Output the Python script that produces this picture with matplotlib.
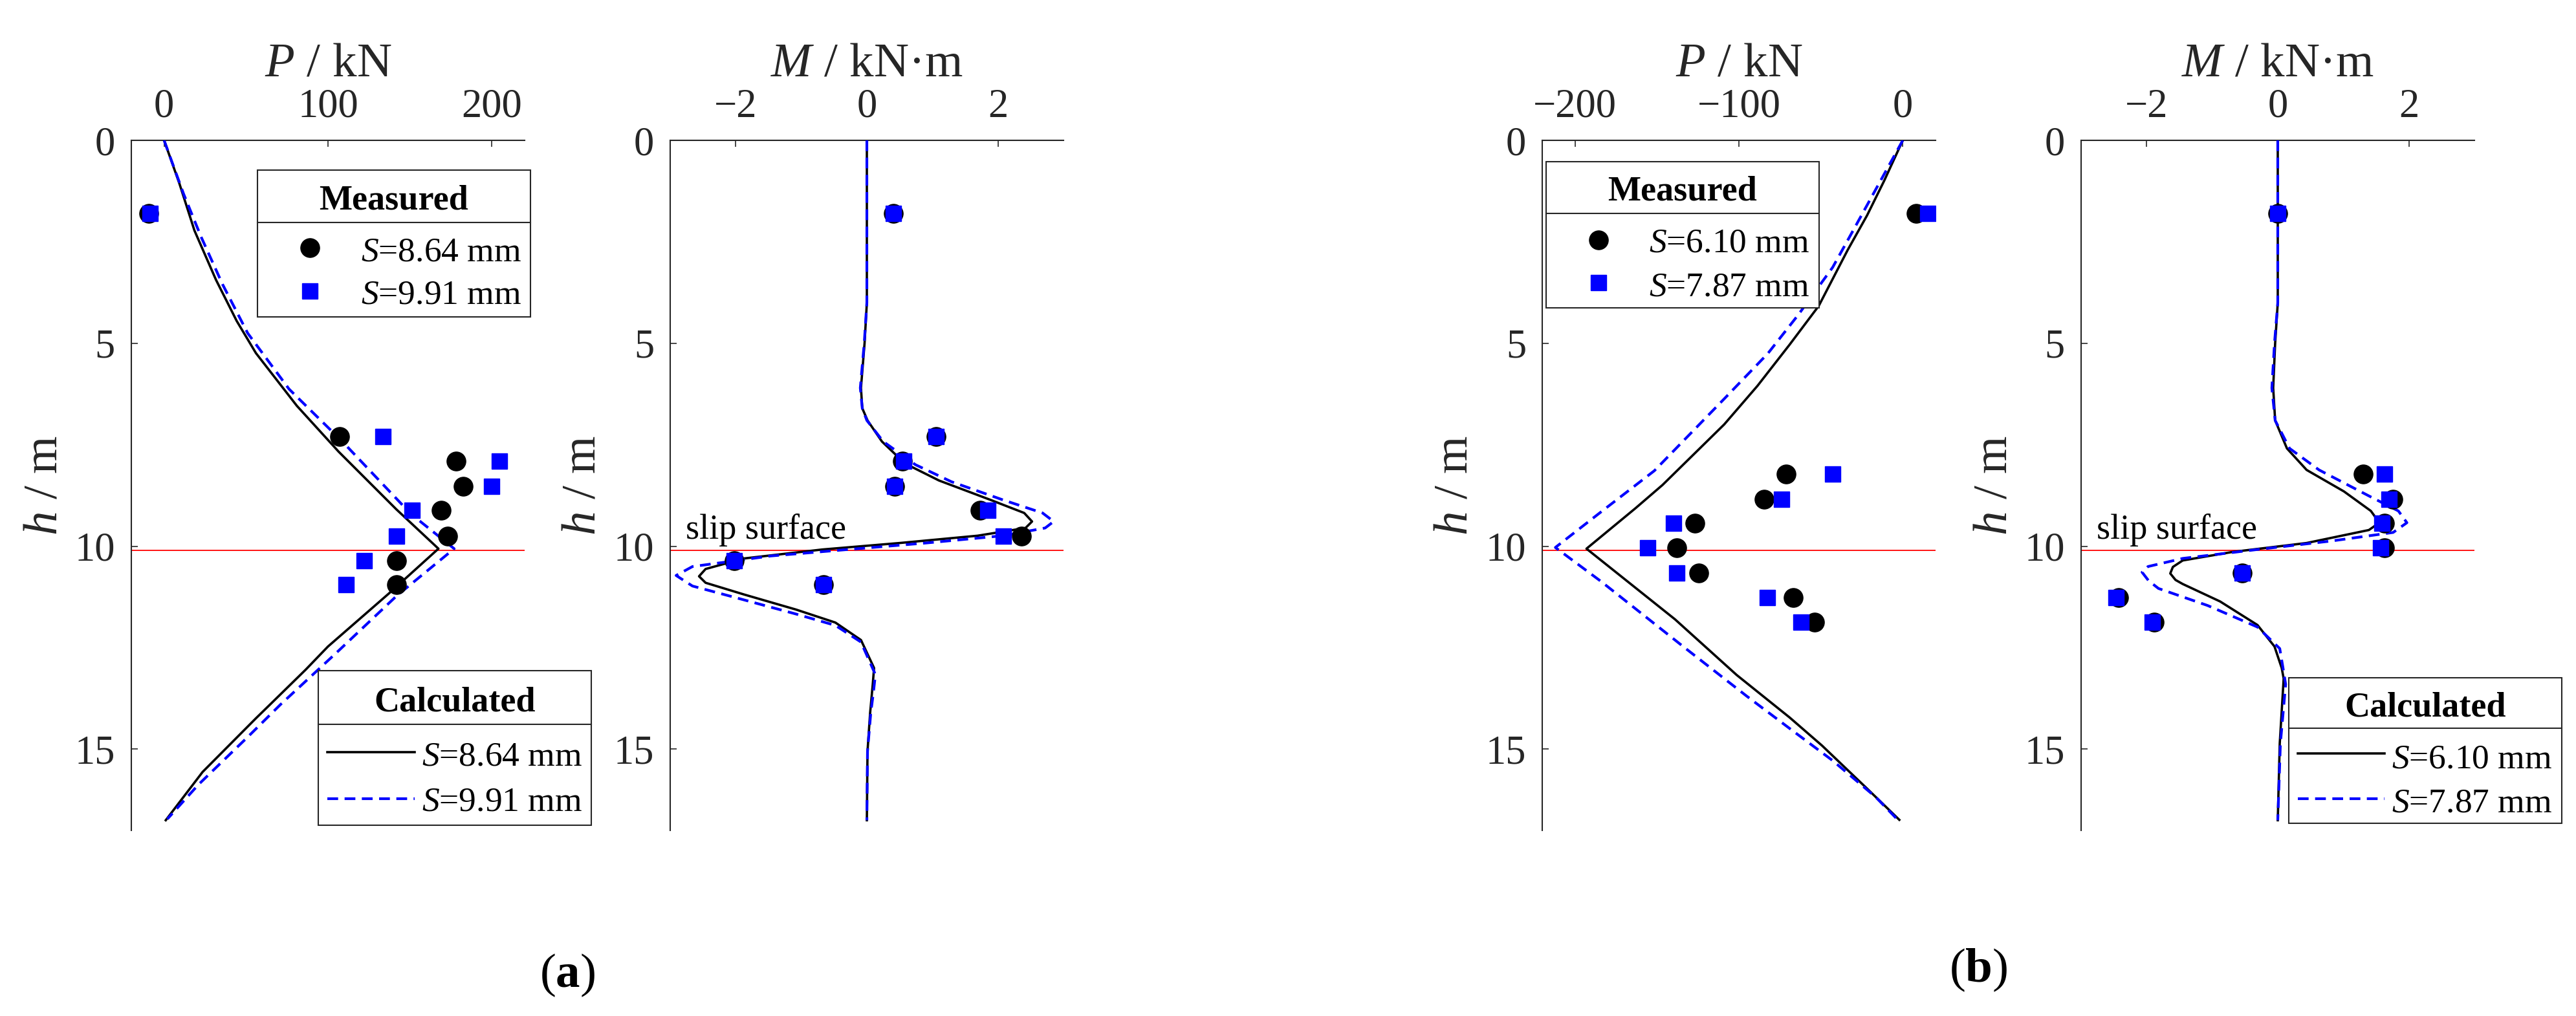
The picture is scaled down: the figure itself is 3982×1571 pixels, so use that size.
import matplotlib
matplotlib.use("Agg")
import matplotlib.pyplot as plt
from matplotlib.lines import Line2D
from matplotlib.patches import Rectangle

plt.rcParams['font.family'] = ['Liberation Serif', 'DejaVu Serif']
plt.rcParams['mathtext.fontset'] = 'custom'
plt.rcParams['mathtext.rm'] = 'Liberation Serif'
plt.rcParams['mathtext.it'] = 'Liberation Serif:italic'
plt.rcParams['mathtext.bf'] = 'Liberation Serif:bold'

# ---- data (h in m, P in kN, M in kN·m) ----
slip_h = 10.1

# (a) measured
h_meas_a = [1.8, 7.3, 7.9, 8.52, 9.12, 9.75, 10.35, 10.95]
P_meas_a1 = [-9.2, 107, 178, 182.4, 169, 173, 141.7, 142]
P_meas_a2 = [-8.4, 133.6, 204.6, 200, 151.3, 141.7, 122, 111]
M_meas_a1 = [0.40, 1.06, 0.54, 0.42, 1.73, 2.36, -2.02, -0.66]
M_meas_a2 = [0.40, 1.06, 0.56, 0.42, 1.85, 2.08, -2.02, -0.66]

# (a) calculated P
h_Pa1 = [0, 1.06, 2.22, 3.44, 4.45, 5.24, 6.54, 7.67, 9.09, 10.06, 11.18, 12.47, 13.04, 13.85, 14.24, 15.56, 16.75]
P_a1 = [0, 9.3, 18.5, 31.7, 44.3, 56, 81, 106.5, 141.7, 167.4, 136.7, 100, 86.4, 65.9, 56, 23.5, 1]
h_Pa2 = [0, 1.32, 2.38, 3.55, 4.75, 6.13, 7.43, 9.2, 10.06, 11.23, 12.63, 13.9, 14.7, 15.87, 16.72]
P_a2 = [0, 11.9, 22.6, 35.7, 51, 76.3, 109, 150.5, 177, 141.7, 105, 71, 51, 21, 2]

# (a) calculated M
h_Ma1 = [0, 4.0, 5.0, 6.1, 6.6, 6.9, 7.42, 7.96, 8.38, 8.86, 9.18, 9.39, 9.55, 9.74, 9.92, 10.08,
         10.3, 10.56, 10.74, 10.9, 11.19, 11.56, 11.88, 12.31, 13.0, 13.4, 14.1, 15.05, 16.75]
M_a1 = [0, 0, -0.035, -0.09, -0.07, 0.01, 0.23, 0.58, 1.10, 1.89, 2.40, 2.52, 2.42, 1.69, 0.50, -0.68,
        -1.87, -2.46, -2.56, -2.46, -1.87, -1.08, -0.48, -0.09, 0.11, 0.09, 0.05, 0.01, 0]
h_Ma2 = [0, 4.0, 5.0, 6.1, 6.6, 6.9, 7.42, 7.99, 8.41, 8.86, 9.18, 9.39, 9.55, 9.74, 9.92, 10.08,
         10.24, 10.5, 10.72, 10.98, 11.24, 11.67, 11.95, 12.36, 13.16, 13.6, 14.1, 15.05, 16.75]
M_a2 = [0, 0, -0.04, -0.1, -0.07, 0.0, 0.25, 0.74, 1.29, 2.08, 2.68, 2.85, 2.72, 2.08, 0.90, -0.29,
        -1.47, -2.66, -2.91, -2.66, -2.06, -1.08, -0.48, -0.09, 0.13, 0.10, 0.06, 0.01, 0]

# (b) measured
h_meas_b = [1.8, 8.22, 8.84, 9.44, 10.04, 10.66, 11.26, 11.87]
P_meas_b1 = [8.3, -71.3, -84.6, -127, -137.8, -124.4, -67, -53.7]
P_meas_b2 = [15.4, -42.6, -73.8, -140, -155.6, -138, -82.7, -62]
M_meas_b1 = [0.0, 1.30, 1.76, 1.63, 1.63, -0.54, -2.43, -1.88]
M_meas_b2 = [0.0, 1.63, 1.70, 1.59, 1.57, -0.54, -2.47, -1.91]

# (b) calculated P
h_Pb1 = [0, 1.0, 1.85, 2.7, 4.08, 5.03, 6.05, 7.0, 8.49, 9.06, 10.06, 11.8, 13.17, 14.22, 14.91, 15.97, 16.74]
P_b1 = [0, -11.4, -21.8, -33.6, -51.3, -69, -88.7, -109, -146.6, -163, -193, -139, -101.4, -69, -49.3, -21.8, -2.1]
h_Pb2 = [0, 1.21, 2.17, 3.13, 4.3, 5.25, 6.37, 8.14, 9.15, 10.03, 10.87, 12.47, 13.69, 14.49, 15.28, 16.18, 16.7]
P_b2 = [0, -16.5, -29.6, -42.8, -63.8, -82.3, -109, -151.6, -184, -212, -184, -134, -95.3, -69, -42.8, -16.5, -4]

# (b) calculated M
h_Mb1 = [0, 4.0, 5.0, 6.1, 6.9, 7.59, 8.12, 8.65, 9.13, 9.42, 9.6, 9.92, 10.14, 10.35, 10.51, 10.67,
         10.83, 10.93, 11.36, 11.94, 12.47, 13.0, 13.26, 14.86, 16.75]
M_b1 = [0, 0, -0.04, -0.07, -0.04, 0.14, 0.44, 1.01, 1.42, 1.55, 1.39, 0.44, -0.69, -1.45, -1.60, -1.64,
        -1.56, -1.45, -0.88, -0.31, -0.05, 0.06, 0.09, 0.03, 0]
h_Mb2 = [0, 4.0, 5.0, 6.1, 6.9, 7.59, 8.12, 8.76, 9.13, 9.42, 9.66, 9.87, 10.08, 10.3, 10.5, 10.64,
         10.85, 11.04, 11.46, 11.99, 12.52, 13.0, 13.4, 14.86, 16.75]
M_b2 = [0, 0, -0.05, -0.09, -0.04, 0.18, 0.63, 1.39, 1.84, 1.97, 1.76, 0.82, -0.31, -1.45, -1.98, -2.07,
        -1.97, -1.82, -1.07, -0.31, 0.03, 0.08, 0.12, 0.04, 0]

labels_a = ['$S$=8.64 mm', '$S$=9.91 mm']
labels_b = ['$S$=6.10 mm', '$S$=7.87 mm']

# ---- figure ----
W, H = 3982, 1571
fig = plt.figure(figsize=(W / 100, H / 100), dpi=100)
GREY = '#262626'


def px(x, y):
    return x / W, 1 - y / H


def make_axes(left_px, xlim, xticks, xlabel):
    ax = fig.add_axes([left_px / W, 1 - 1284 / H, 608 / W, 1067 / H])
    ax.set_xlim(*xlim)
    ax.set_ylim(17, 0)
    ax.set_xticks(xticks)
    ax.set_yticks([0, 5, 10, 15])
    ax.xaxis.tick_top()
    ax.xaxis.set_label_position('top')
    for s in ['right', 'bottom']:
        ax.spines[s].set_visible(False)
    for s in ['left', 'top']:
        ax.spines[s].set_linewidth(1.5)
        ax.spines[s].set_color(GREY)
    ax.tick_params(axis='x', direction='in', length=7, width=1.2, labelsize=45,
                   pad=16, colors=GREY)
    ax.tick_params(axis='y', direction='in', length=7, width=1.2, labelsize=45,
                   pad=18, colors=GREY)
    ax.set_xlabel(xlabel, fontsize=54, labelpad=14, color=GREY)
    ax.set_ylabel('$h$ / m', fontsize=54, labelpad=9, color=GREY)
    ax.axhline(slip_h, color='red', lw=1.3, zorder=1)
    return ax


def draw_panel(ax, h1, x1, h2, x2, hm, xm1, xm2):
    ax.plot(x1, h1, color='black', lw=2.6, zorder=3)
    ax.plot(x2, h2, color='blue', lw=3, ls=(0, (4, 2.4)), zorder=3)
    ax.plot(xm1, hm, 'o', color='black', ms=21, ls='none', zorder=4)
    ax.plot(xm2, hm, 's', color='blue', ms=17, ls='none', zorder=5)


def legend_box(x0, y0, x1, y1, ydiv, title, title_base, kind, xs, ys, xt, bases, labels):
    fig.add_artist(Rectangle(px(x0, y1), (x1 - x0) / W, (y1 - y0) / H,
                             transform=fig.transFigure, facecolor='white',
                             edgecolor=GREY, lw=1.5, zorder=6))
    fig.add_artist(Line2D([x0 / W, x1 / W], [1 - ydiv / H] * 2, color=GREY, lw=1.5,
                          transform=fig.transFigure, zorder=7))
    fig.text(*px((x0 + x1) / 2, title_base), title, ha='center', va='baseline',
             fontsize=39, fontweight='bold', zorder=7)
    styles = [dict(color='black'), dict(color='blue')]
    for i in range(2):
        if kind == 'marker':
            mk = dict(marker='o', ms=21) if i == 0 else dict(marker='s', ms=17)
            fig.add_artist(Line2D([xs[0] / W], [1 - ys[i] / H], ls='none',
                                  transform=fig.transFigure, zorder=7, **mk, **styles[i]))
        else:
            ls = dict(ls='-', lw=2.6) if i == 0 else dict(ls=(0, (4, 2.4)), lw=3)
            fig.add_artist(Line2D([xs[0] / W, xs[1] / W], [1 - ys[i] / H] * 2,
                                  transform=fig.transFigure, zorder=7, **ls, **styles[i]))
        fig.text(*px(xt, bases[i]), labels[i], ha='left', va='baseline',
                 fontsize=38.5, zorder=7)


ax1 = make_axes(203, (-20, 220), [0, 100, 200], '$P$ / kN')
ax2 = make_axes(1036, (-3, 3), [-2, 0, 2], '$M$ / kN·m')
ax3 = make_axes(2384, (-220, 20), [-200, -100, 0], '$P$ / kN')
ax4 = make_axes(3217, (-3, 3), [-2, 0, 2], '$M$ / kN·m')

draw_panel(ax1, h_Pa1, P_a1, h_Pa2, P_a2, h_meas_a, P_meas_a1, P_meas_a2)
draw_panel(ax2, h_Ma1, M_a1, h_Ma2, M_a2, h_meas_a, M_meas_a1, M_meas_a2)
draw_panel(ax3, h_Pb1, P_b1, h_Pb2, P_b2, h_meas_b, P_meas_b1, P_meas_b2)
draw_panel(ax4, h_Mb1, M_b1, h_Mb2, M_b2, h_meas_b, M_meas_b1, M_meas_b2)

for ax in (ax2, ax4):
    ax.text(-2.76, 9.81, 'slip surface', fontsize=39, ha='left', va='baseline')

legend_box(398, 263, 820, 490, 344, 'Measured', 324, 'marker', [479], [383, 450], 558, [403, 469], labels_a)
legend_box(492, 1037, 914, 1276, 1120, 'Calculated', 1099, 'line', [506, 641], [1163, 1235], 652, [1183, 1253], labels_a)
legend_box(2390, 250, 2812, 476, 330, 'Measured', 309, 'marker', [2471], [371, 437], 2549, [390, 457], labels_b)
legend_box(3538, 1048, 3960, 1273, 1126, 'Calculated', 1108, 'line', [3552, 3686], [1165, 1235], 3697, [1188, 1255], labels_b)

fig.text(*px(877, 1508), r'($\mathbf{a}$)', fontsize=54, ha='center', va='center')
fig.text(*px(3058, 1500), r'($\mathbf{b}$)', fontsize=54, ha='center', va='center')

fig.savefig('out.png', dpi=100, facecolor='white')
